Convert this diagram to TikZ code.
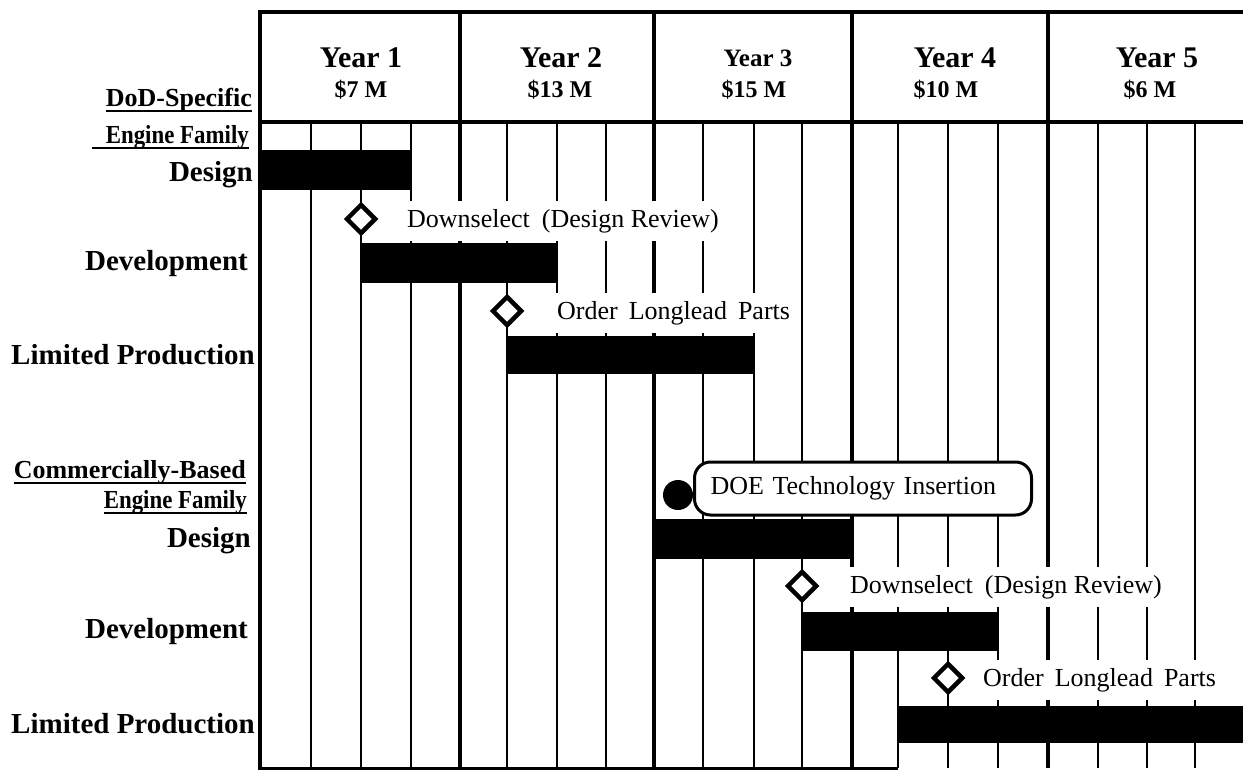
\documentclass[tikz,border=0pt]{standalone}
\usepackage{fontspec}
\usepackage{graphicx}
\setmainfont{Liberation Serif}
\usetikzlibrary{shapes.geometric}
\begin{document}
\begin{tikzpicture}[x=1pt,y=-1pt,
  gridq/.style={line width=1.8pt},
  gridy/.style={line width=3.2pt},
  frame/.style={line width=4.5pt},
  bar/.style={fill=black},
  ms/.style={diamond, draw, line width=4.5pt, fill=white, minimum size=30pt, inner sep=0pt},
  note/.style={font=\fontsize{26}{28}\selectfont, fill=white, anchor=west, inner xsep=4pt, inner ysep=0pt, minimum height=40pt},
  lab/.style={font=\fontsize{29}{31}\selectfont\bfseries, anchor=base east, inner sep=0pt},
  head/.style={font=\fontsize{26}{28}\selectfont\bfseries, anchor=base east, inner sep=0pt},
  yr/.style={font=\fontsize{30}{32}\selectfont\bfseries, anchor=base, inner sep=0pt},
  yrs/.style={font=\fontsize{25}{27}\selectfont\bfseries, anchor=base, inner sep=0pt},
  amt/.style={font=\fontsize{24}{26}\selectfont\bfseries, anchor=base, inner sep=0pt},
  uline/.style={line width=2.5pt},
  dot/.style={circle, fill=black, minimum size=30pt, inner sep=0pt},
  callout/.style={draw, line width=3pt, rounded corners=16pt, fill=white, anchor=west, minimum height=53pt, text width=305pt, inner xsep=16pt, inner ysep=0pt, align=left, font=\fontsize{26}{28}\selectfont}
]
\useasboundingbox (0,0) rectangle (1243,771);
% grid
\foreach \x in {311,361,411,507,557,606,703,754,802,898,948,998,1098,1147,1195,1245}
  \draw[gridq] (\x,122) -- (\x,768);
\foreach \x in {460,654,852,1048}
  \draw[gridy] (\x,122) -- (\x,768);
\draw[frame] (260,10) -- (260,769);
\draw[line width=3pt] (258,768) -- (898,768);
% header
\draw[frame] (258,12) -- (1250,12);
\draw[frame] (258,122) -- (1250,122);
\foreach \x in {460,654,852,1048}
  \draw[frame] (\x,12) -- (\x,122);
\node[yr] (y1) at (361,67) {Year 1};
\node[amt] (m1) at (361,97) {\$7 M};
\node[yr] (y2) at (561,67) {Year 2};
\node[amt] (m2) at (560,97) {\$13 M};
\node[yrs] (y3) at (758,66) {Year 3};
\node[amt] (m3) at (754,97) {\$15 M};
\node[yr] (y4) at (955,67) {Year 4};
\node[amt] (m4) at (946,97) {\$10 M};
\node[yr] (y5) at (1157,67) {Year 5};
\node[amt] (m5) at (1150,97) {\$6 M};
% milestone texts (white backgrounds hide grid)
\node[note] (ds1) at (403,221) {Downselect\hspace{12pt}(Design Review)};
\node[note] (ol1) at (553,313) {Order\hspace{11pt}Longlead\hspace{11pt}Parts};
\node[note] (ds2) at (846,587) {Downselect\hspace{12pt}(Design Review)};
\node[note] (ol2) at (979,680) {Order\hspace{11pt}Longlead\hspace{11pt}Parts};
% bars
\fill[bar] (260,150) rectangle (411,190);
\fill[bar] (361,243) rectangle (557,283);
\fill[bar] (507,336) rectangle (754,374);
\fill[bar] (654,519) rectangle (852,559);
\fill[bar] (802,612) rectangle (998,651);
\fill[bar] (898,706) rectangle (1250,743);
% milestones
\node[ms] (d1) at (361,219) {};
\node[ms] (d2) at (507,311) {};
\node[ms] (d3) at (802,586) {};
\node[ms] (d4) at (948,678) {};
\node[dot] (doedot) at (678,495) {};
\node[callout] (doe) at (693,488.5) {DOE Technology Insertion};
% row labels
\node[head] (dod) at (252,106) {DoD-Specific};
\draw[uline] ([yshift=-5pt]dod.base west) -- ([yshift=-5pt]dod.base east);
\node[head] (ef1) at (249,143) {\scalebox{0.88}[1]{Engine Family}};
\draw[uline] ([xshift=-14pt,yshift=-5pt]ef1.base west) -- ([yshift=-5pt]ef1.base east);
\node[lab] (r1) at (253,181) {Design};
\node[lab] (r2) at (248,270) {Development};
\node[lab] (r3) at (255,364) {Limited Production};
\node[head] (cb) at (246,478) {Commercially-Based};
\draw[uline] ([yshift=-5pt]cb.base west) -- ([yshift=-5pt]cb.base east);
\node[head] (ef2) at (247,508) {\scalebox{0.88}[1]{Engine Family}};
\draw[uline] ([yshift=-5pt]ef2.base west) -- ([yshift=-5pt]ef2.base east);
\node[lab] (r4) at (251,547) {Design};
\node[lab] (r5) at (248,638) {Development};
\node[lab] (r6) at (255,733) {Limited Production};
\end{tikzpicture}
\end{document}
